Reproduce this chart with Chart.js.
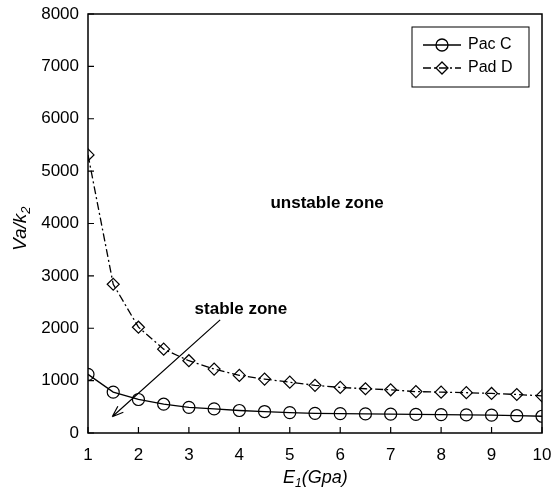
<!DOCTYPE html>
<html>
<head>
<meta charset="utf-8">
<script src="https://cdn.jsdelivr.net/npm/chart.js@4/dist/chart.umd.min.js"></script>
<style>
  html, body { margin: 0; padding: 0; background: #fff; }
  #wrap { width: 552px; height: 497px; }
</style>
</head>
<body>
<div id="wrap"><canvas id="chart" width="552" height="497"></canvas></div>
<script>
// E1 values (Gpa)
const eValues = [1, 1.5, 2, 2.5, 3, 3.5, 4, 4.5, 5, 5.5, 6, 6.5, 7, 7.5, 8, 8.5, 9, 9.5, 10];
// Va/k2 values
const pacC = [1120, 780, 640, 550, 490, 460, 430, 410, 390, 375, 370, 365, 360, 355, 350, 345, 340, 330, 320];
const padD = [5310, 2840, 2020, 1600, 1380, 1220, 1100, 1030, 970, 910, 870, 845, 825, 790, 780, 770, 755, 735, 710];

const xTicks = [1, 2, 3, 4, 5, 6, 7, 8, 9, 10];
const yTicks = [0, 1000, 2000, 3000, 4000, 5000, 6000, 7000, 8000];

const FONT = 'Liberation Sans, Arial, sans-serif';

function toPoints(xs, ys) {
    return xs.map((x, i) => ({ x: x, y: ys[i] }));
}

// frame, inward ticks, titles, notes and legend
const extrasPlugin = {
    id: 'extras',
    afterDraw(chart) {
        const ctx = chart.ctx;
        const a = chart.chartArea;
        const xs = chart.scales.x;
        const ys = chart.scales.y;
        ctx.save();
        ctx.strokeStyle = '#000';
        ctx.lineWidth = 1.5;
        ctx.strokeRect(a.left, a.top, a.right - a.left, a.bottom - a.top);

        // inward ticks
        ctx.lineWidth = 1.2;
        ctx.beginPath();
        xTicks.forEach(v => {
            const px = xs.getPixelForValue(v);
            ctx.moveTo(px, a.bottom);
            ctx.lineTo(px, a.bottom - 6);
        });
        yTicks.forEach(v => {
            const py = ys.getPixelForValue(v);
            ctx.moveTo(a.left, py);
            ctx.lineTo(a.left + 6, py);
        });
        ctx.stroke();

        ctx.fillStyle = '#000';
        // x title E1(Gpa)
        ctx.font = 'italic 18px ' + FONT;
        ctx.textBaseline = 'alphabetic';
        ctx.textAlign = 'left';
        const tx = 283, ty = 483;
        ctx.fillText('E', tx, ty);
        let w = ctx.measureText('E').width;
        ctx.font = 'italic 12px ' + FONT;
        ctx.fillText('1', tx + w, ty + 4);
        let w2 = ctx.measureText('1').width;
        ctx.font = 'italic 18px ' + FONT;
        ctx.fillText('(Gpa)', tx + w + w2, ty);

        // y title Va/k2
        ctx.save();
        ctx.translate(26, 251);
        ctx.rotate(-Math.PI / 2);
        ctx.font = 'italic 19px ' + FONT;
        ctx.fillText('Va/k', 0, 0);
        w = ctx.measureText('Va/k').width;
        ctx.font = 'italic 13px ' + FONT;
        ctx.fillText('2', w, 4);
        ctx.restore();

        // notes
        ctx.font = 'bold 17px ' + FONT;
        ctx.textAlign = 'center';
        ctx.textBaseline = 'middle';
        ctx.fillText('unstable zone', xs.getPixelForValue(5.74), ys.getPixelForValue(4390));
        ctx.fillText('stable zone', xs.getPixelForValue(4.03), ys.getPixelForValue(2370));

        // arrow
        const x0 = xs.getPixelForValue(3.62), y0 = ys.getPixelForValue(2160);
        const x1 = xs.getPixelForValue(1.48), y1 = ys.getPixelForValue(310);
        ctx.lineWidth = 1.2;
        ctx.beginPath();
        ctx.moveTo(x0, y0);
        ctx.lineTo(x1, y1);
        const ang = Math.atan2(y1 - y0, x1 - x0);
        ctx.moveTo(x1, y1);
        ctx.lineTo(x1 - 12 * Math.cos(ang - 0.35), y1 - 12 * Math.sin(ang - 0.35));
        ctx.moveTo(x1, y1);
        ctx.lineTo(x1 - 12 * Math.cos(ang + 0.35), y1 - 12 * Math.sin(ang + 0.35));
        ctx.stroke();

        // legend
        ctx.lineWidth = 1;
        ctx.strokeRect(412, 27, 117, 60);
        const rows = [
            { label: 'Pac C', y: 45, dash: [], style: 'circle' },
            { label: 'Pad D', y: 68, dash: [8, 3, 2, 3], style: 'diamond' }
        ];
        rows.forEach(r => {
            ctx.lineWidth = 1.3;
            ctx.setLineDash(r.dash);
            ctx.beginPath();
            ctx.moveTo(423, r.y);
            ctx.lineTo(461, r.y);
            ctx.stroke();
            ctx.setLineDash([]);
            ctx.beginPath();
            if (r.style === 'circle') {
                ctx.arc(442, r.y, 6, 0, Math.PI * 2);
            } else {
                ctx.moveTo(442, r.y - 6);
                ctx.lineTo(448, r.y);
                ctx.lineTo(442, r.y + 6);
                ctx.lineTo(436, r.y);
                ctx.closePath();
            }
            ctx.stroke();
            ctx.font = '16px ' + FONT;
            ctx.textAlign = 'left';
            ctx.fillText(r.label, 468, r.y);
        });
        ctx.restore();
    }
};

new Chart(document.getElementById('chart').getContext('2d'), {
    type: 'line',
    data: {
        datasets: [{
            label: 'Pac C',
            data: toPoints(eValues, pacC),
            borderColor: '#000',
            borderWidth: 1.3,
            backgroundColor: 'rgba(0,0,0,0)',
            pointStyle: 'circle',
            pointRadius: 6,
            pointBorderWidth: 1.2,
            pointBorderColor: '#000',
            tension: 0
        }, {
            label: 'Pad D',
            data: toPoints(eValues, padD),
            borderColor: '#000',
            borderWidth: 1.3,
            borderDash: [8, 3, 2, 3],
            backgroundColor: 'rgba(0,0,0,0)',
            pointStyle: 'rectRot',
            pointRadius: 6,
            pointBorderWidth: 1.2,
            pointBorderColor: '#000',
            tension: 0
        }]
    },
    options: {
        responsive: false,
        animation: false,
        layout: { padding: { top: 14, right: 10, left: 0, bottom: 0 } },
        plugins: {
            legend: { display: false },
            tooltip: { enabled: false }
        },
        scales: {
            x: {
                type: 'linear',
                min: 1,
                max: 10,
                border: { display: false },
                grid: { display: false, drawTicks: false },
                ticks: {
                    stepSize: 1,
                    padding: 12,
                    color: '#000',
                    font: { family: FONT, size: 17 }
                },
                afterFit(scale) {
                    scale.height = 64;
                    scale.paddingLeft = 0;
                    scale.paddingRight = 0;
                }
            },
            y: {
                min: 0,
                max: 8000,
                border: { display: false },
                grid: { display: false, drawTicks: false },
                ticks: {
                    stepSize: 1000,
                    padding: 9,
                    color: '#000',
                    font: { family: FONT, size: 17 },
                    callback: v => String(v)
                },
                afterFit(scale) {
                    scale.width = 88;
                    scale.paddingTop = 0;
                    scale.paddingBottom = 0;
                }
            }
        }
    },
    plugins: [extrasPlugin]
});
</script>
</body>
</html>
